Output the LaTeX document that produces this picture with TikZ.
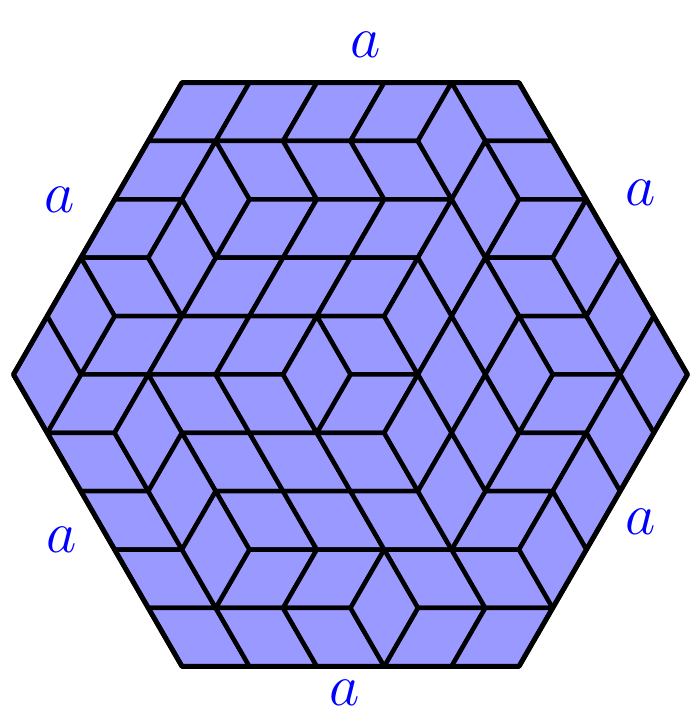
\documentclass[tikz,border=0pt]{standalone}
\usepackage{tikz}

\begin{document}
\begin{tikzpicture}[
    x=0.5cm, y=0.8660254cm,
    lozenge/.style={fill=blue!40, draw=black, line width=1.9pt, line join=round},
    hexrim/.style={draw=black, line width=2.1pt, line join=round},
    sidelabel/.style={text=blue, inner sep=0pt, font=\fontsize{24}{28}\selectfont}
]
\useasboundingbox (-5.2cm,-5.052cm) rectangle (5.052cm,5.556cm);
% corners of the hexagon (x in half sides, y in rows)
\coordinate (tl) at (-5,5);
\coordinate (tr) at (5,5);
\coordinate (rr) at (10,0);
\coordinate (br) at (5,-5);
\coordinate (bl) at (-5,-5);
\coordinate (ll) at (-10,0);
% lozenges with horizontal edges: one path per column, position on rows 0..10
\foreach \pth in {{-4,-5,-6,-7,-6,-7,-8,-7,-6,-5,-4},
                  {-2,-3,-2,-3,-4,-5,-4,-3,-2,-3,-2},
                  {0,-1,0,-1,-2,-3,-2,-1,0,-1,0},
                  {2,1,2,1,0,1,0,1,2,3,2},
                  {4,5,6,5,6,7,6,5,4,5,4}} {
  \foreach \j in {0,...,9} {
    \pgfmathtruncatemacro\ka{{\pth}[\j]}
    \pgfmathtruncatemacro\kb{{\pth}[\j+1]}
    \filldraw[lozenge] (\ka-1,5-\j) -- (\ka+1,5-\j) -- (\kb+1,4-\j) -- (\kb-1,4-\j) -- cycle;
  }
}
% upright lozenges: row of the middle edge / position
\foreach \j/\k in {1/3, 2/-4, 2/4, 3/-5, 3/3, 3/7, 4/-8, 4/2, 4/4, 4/8,
                   5/-9, 5/-1, 5/3, 5/5, 5/9, 6/-6, 6/2, 6/4, 6/8,
                   7/-5, 7/3, 7/7, 8/-4, 8/6, 9/1}
  \filldraw[lozenge] (\k,6-\j) -- (\k+1,5-\j) -- (\k,4-\j) -- (\k-1,5-\j) -- cycle;
\draw[hexrim] (tl) -- (tr) -- (rr) -- (br) -- (bl) -- (ll) -- cycle;
% side lengths
\node[sidelabel] (atop) at (0.23cm,4.89cm) {$a$};
\node[sidelabel] (abot) at (-0.08cm,-4.72cm) {$a$};
\node[sidelabel] (aul) at (-4.31cm,2.59cm) {$a$};
\node[sidelabel] (aur) at (4.30cm,2.69cm) {$a$};
\node[sidelabel] (all) at (-4.28cm,-2.45cm) {$a$};
\node[sidelabel] (alr) at (4.30cm,-2.19cm) {$a$};
\end{tikzpicture}
\end{document}
